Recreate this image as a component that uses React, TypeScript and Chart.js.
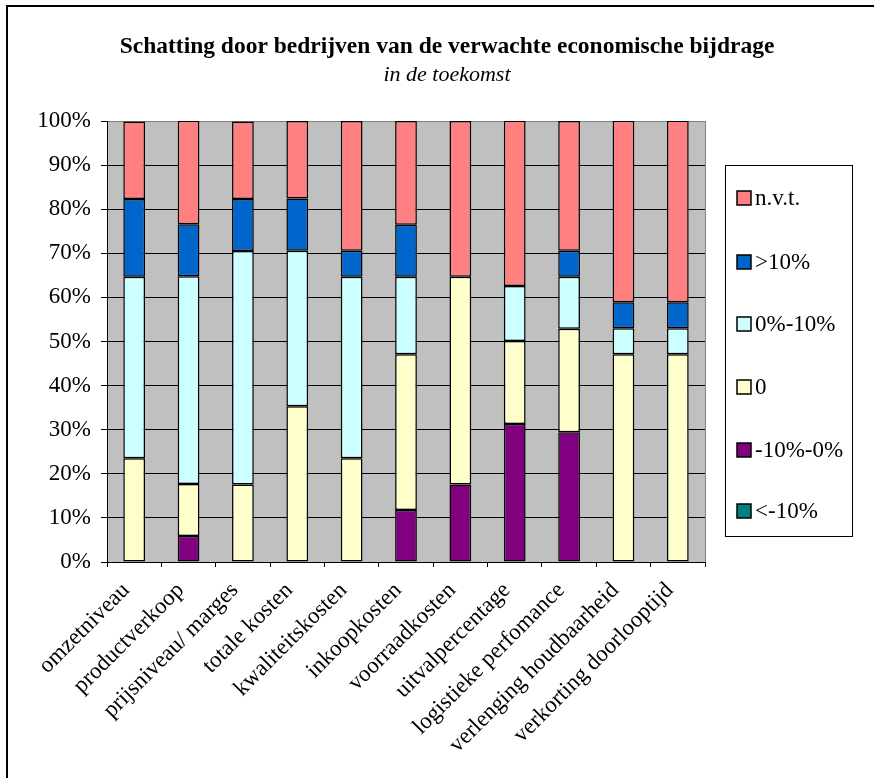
import React, { useEffect, useRef } from "react";
import { Chart, registerables } from "chart.js";

Chart.register(...registerables);

const titleText = "Schatting door bedrijven van de verwachte economische bijdrage";
const subtitleText = "in de toekomst";

const categories = [
  "omzetniveau",
  "productverkoop",
  "prijsniveau/ marges",
  "totale kosten",
  "kwaliteitskosten",
  "inkoopkosten",
  "voorraadkosten",
  "uitvalpercentage",
  "logistieke perfomance",
  "verlenging houdbaarheid",
  "verkorting doorlooptijd",
];

const seriesLabels = ["<-10%", "-10%-0%", "0", "0%-10%", ">10%", "n.v.t."];
const seriesColors = ["#008080", "#800080", "#FFFFCC", "#CCFFFF", "#0066CC", "#FF8080"];

const ltMin10 = [0, 0, 0, 0, 0, 0, 0, 0, 0, 0, 0];
const min10to0 = [0, 5.9, 0, 0, 0, 11.8, 17.6, 31.3, 29.4, 0, 0];
const zeroVals = [23.5, 11.8, 17.6, 35.3, 23.5, 35.3, 47.1, 18.8, 23.5, 47.1, 47.1];
const zeroTo10 = [41.2, 47.1, 52.9, 35.3, 41.2, 17.6, 0, 12.5, 11.8, 5.9, 5.9];
const gt10 = [17.6, 11.8, 11.8, 11.8, 5.9, 11.8, 0, 0, 5.9, 5.9, 5.9];
const nvt = [17.6, 23.5, 17.6, 17.6, 29.4, 23.5, 35.3, 37.5, 29.4, 41.2, 41.2];

const seriesValues = [ltMin10, min10to0, zeroVals, zeroTo10, gt10, nvt];

const yTicks = [0, 10, 20, 30, 40, 50, 60, 70, 80, 90, 100];

const FONT = '"Liberation Serif", "Times New Roman", serif';
const FS = 23;

const decorPlugin = {
  id: "decor",
  beforeDraw(chart: any) {
    const { ctx, chartArea } = chart;
    ctx.save();
    ctx.fillStyle = "#C0C0C0";
    ctx.fillRect(chartArea.left, chartArea.top, chartArea.right - chartArea.left, chartArea.bottom - chartArea.top);
    ctx.restore();
  },
  afterDraw(chart: any) {
    const { ctx, chartArea } = chart;
    ctx.save();
    // right plot border
    ctx.strokeStyle = "#808080";
    ctx.lineWidth = 1;
    ctx.beginPath();
    ctx.moveTo(Math.round(chartArea.right) + 0.5, chartArea.top);
    ctx.lineTo(Math.round(chartArea.right) + 0.5, chartArea.bottom);
    ctx.stroke();

    // outer frame (left and top visible)
    ctx.strokeStyle = "#000";
    ctx.lineWidth = 2;
    ctx.beginPath();
    ctx.moveTo(7, 778);
    ctx.lineTo(7, 6);
    ctx.lineTo(874, 6);
    ctx.stroke();

    // titles
    ctx.fillStyle = "#000";
    ctx.textAlign = "center";
    ctx.textBaseline = "middle";
    ctx.font = `bold 23.5px ${FONT}`;
    ctx.fillText(titleText, 447, 47);
    ctx.font = `italic 22px ${FONT}`;
    ctx.fillText(subtitleText, 447, 75);

    // legend
    ctx.strokeStyle = "#000";
    ctx.lineWidth = 1;
    ctx.strokeRect(725.5, 165.5, 127, 371);
    const ys = [198, 262, 324, 387, 450, 511];
    const ds = chart.data.datasets;
    ctx.textAlign = "left";
    ctx.font = `${FS}px ${FONT}`;
    for (let i = 0; i < ds.length; i++) {
      const d = ds[ds.length - 1 - i];
      const y = ys[i];
      ctx.fillStyle = d.backgroundColor;
      ctx.fillRect(737, y - 7, 14, 14);
      ctx.strokeStyle = "#000";
      ctx.lineWidth = 1.5;
      ctx.strokeRect(737, y - 7, 14, 14);
      ctx.fillStyle = "#000";
      ctx.fillText(d.label, 755, y + 1);
    }
    ctx.restore();
  },
};

export default function App() {
  const ref = useRef<HTMLCanvasElement>(null);

  useEffect(() => {
    if (!ref.current) return;
    const chart = new Chart(ref.current, {
      type: "bar",
      data: {
        labels: categories,
        datasets: seriesLabels.map((label, i) => ({
          label,
          data: seriesValues[i].map((v) => (v === 0 ? null : v)),
          backgroundColor: seriesColors[i],
          borderColor: "#000",
          borderWidth: 1.5,
          borderSkipped: false,
          barPercentage: 0.4,
          categoryPercentage: 1,
        })),
      },
      options: {
        responsive: false,
        animation: false,
        devicePixelRatio: 1,
        layout: { padding: { left: 37, top: 121, right: 169, bottom: 0 } },
        plugins: {
          legend: { display: false },
          title: { display: false },
          tooltip: { enabled: false },
        },
        scales: {
          x: {
            stacked: true,
            offset: true,
            afterFit: (s: any) => {
              s.height = 216;
            },
            grid: {
              offset: true,
              drawOnChartArea: false,
              drawTicks: true,
              tickLength: 5,
              tickColor: "#000",
            },
            border: { color: "#000", width: 1 },
            ticks: {
              autoSkip: false,
              maxRotation: 45,
              minRotation: 45,
              padding: 10,
              labelOffset: -8,
              color: "#000",
              font: { family: FONT, size: 23 },
            },
          },
          y: {
            stacked: true,
            min: 0,
            max: 100,
            afterFit: (s: any) => {
              s.width = 70;
            },
            afterBuildTicks: (s: any) => {
              s.ticks = yTicks.map((v) => ({ value: v }));
            },
            grid: {
              color: (c: any) => (c.tick && c.tick.value === 100 ? "#808080" : "#000"),
              lineWidth: 1,
              tickLength: 6,
              tickColor: "#000",
            },
            border: { color: "#000", width: 1 },
            ticks: {
              padding: 10,
              color: "#000",
              font: { family: FONT, size: FS },
              callback: (v: any) => `${v}%`,
            },
          },
        },
      },
      plugins: [decorPlugin],
    });
    return () => chart.destroy();
  }, []);

  return (
    <div style={{ position: "fixed", left: 0, top: 0, width: 874, height: 778, background: "#fff" }}>
      <canvas ref={ref} width={874} height={778} style={{ display: "block", width: 874, height: 778 }} />
    </div>
  );
}
